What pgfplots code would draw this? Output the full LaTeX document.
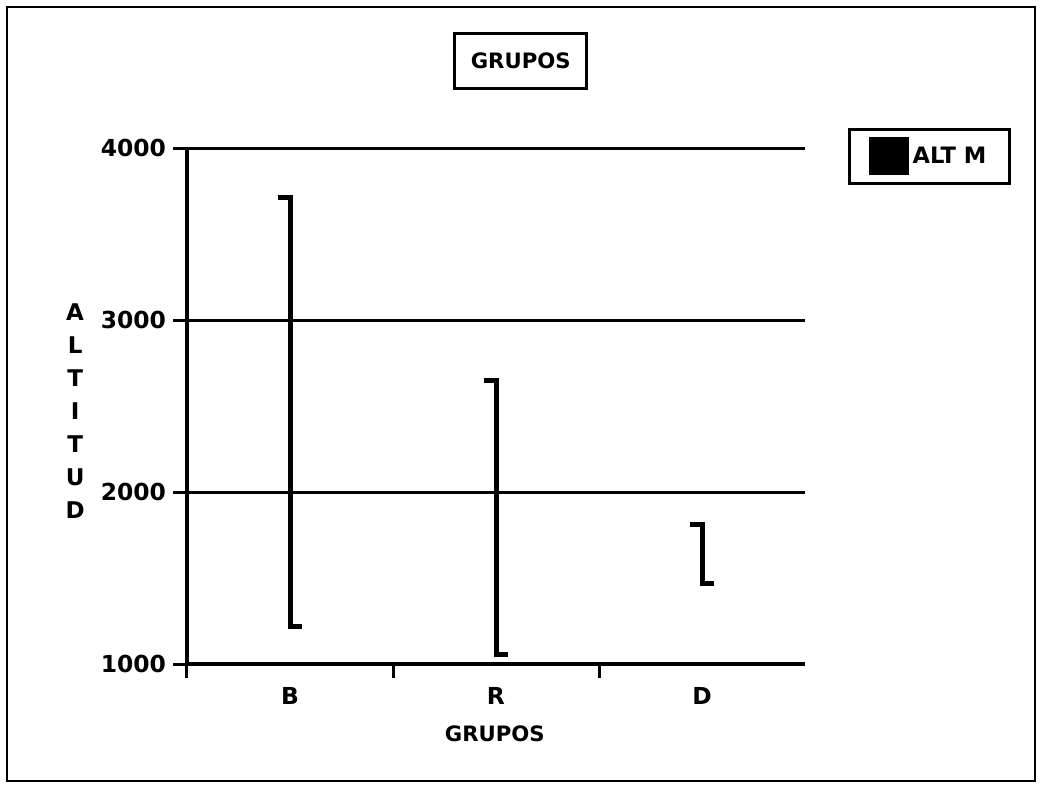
\documentclass[border=0pt]{standalone}
\usepackage{fontspec}
\setmainfont{DejaVu Sans}
\usepackage{pgfplots}
\pgfplotsset{compat=1.18}

\begin{document}
\begin{tikzpicture}
\path[use as bounding box] (-93.5pt,-62pt) rectangle ++(521pt,394pt);
\draw[line width=1pt] (-90pt,-58.5pt) rectangle (424pt,328.5pt);
\begin{axis}[at={(0pt,0pt)}, anchor=south west
  , scale only axis, width=309pt, height=258pt
  , xmin=-0.5, xmax=2.5, ymin=1000, ymax=4000
  , axis x line=bottom, axis y line=left
  , axis line style={line width=2pt,-}
  , ytick={1000,2000,3000,4000}
  , ymajorgrids, grid style={line width=1.5pt,black}
  , tick align=outside, major tick length=7pt
  , tick style={line width=1.5pt,black}
  , xtick={-0.5,0.5,1.5}, xticklabels={}
  , extra x ticks={0,1,2}, extra x tick labels={B,R,D}
  , extra x tick style={major tick length=0pt, grid=none,
      tick label style={yshift=-8pt}}
  , /pgf/number format/assume math mode=true
  , /pgf/number format/set thousands separator={}
  , tick label style={font=\bfseries\fontsize{11.7}{14}\selectfont}
  , title={GRUPOS}
  , title style={draw, line width=1.5pt, at={(0.540,1.145)}, anchor=center,
      minimum width=66pt, minimum height=27.5pt, inner sep=0pt,
      font=\bfseries\fontsize{10.6}{13}\selectfont}
  , xlabel={GRUPOS}
  , xlabel style={at={(0.498,-0.136)}, anchor=center,
      font=\bfseries\fontsize{10.6}{13}\selectfont}
  , ylabel={A\\L\\T\\I\\T\\U\\D}
  , ylabel style={rotate=-90, at={(-0.181,0.490)}, anchor=center, align=center,
      font=\bfseries\fontsize{11.5}{16.5}\selectfont}
  , legend style={at={(1.0696,1.0388)}, anchor=north west, draw, line width=1.5pt,
      inner xsep=9.5pt, inner ysep=4pt, font=\bfseries\fontsize{11.3}{13}\selectfont}
  , unbounded coords=jump
  ]
\addplot[black, line width=2.5pt, line join=miter, line cap=butt,
  legend image code/.code={\fill[black] (0pt,-8.25pt) rectangle (17.5pt,8.25pt);}]
  coordinates {
  (-0.06,3710) (0,3710) (0,1220) (0.06,1220)
  (0.5,nan)
  (0.94,2650) (1,2650) (1,1055) (1.06,1055)
  (1.5,nan)
  (1.94,1810) (2,1810) (2,1470) (2.06,1470)
};
\addlegendentry{ALT M}
\end{axis}
\end{tikzpicture}
\end{document}
